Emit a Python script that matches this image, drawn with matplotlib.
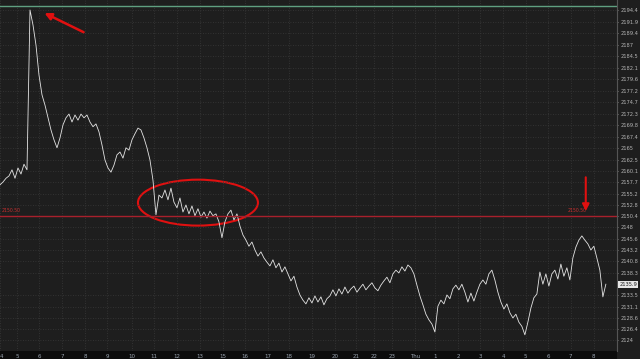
import numpy as np
import matplotlib.pyplot as plt
from matplotlib.patches import Ellipse, Rectangle

# price, one value every few bars
price = [
    2157.1, 2157.7, 2158.5, 2159.0, 2160.3, 2158.5, 2160.7, 2159.4, 2161.5, 2160.3,
    2194.4, 2191.2, 2186.9, 2180.5, 2176.3, 2174.1, 2171.4, 2168.8, 2166.7, 2165.0,
    2167.1, 2169.9, 2171.4, 2172.2, 2170.5, 2172.0, 2170.9, 2172.2, 2171.4, 2172.0,
    2170.5, 2169.5, 2170.1, 2168.4, 2165.6, 2162.4, 2160.7, 2159.8, 2161.3, 2163.5,
    2164.1, 2162.8, 2165.0, 2164.5, 2166.7, 2168.0, 2169.2, 2168.8, 2167.1, 2165.0,
    2162.4, 2158.1, 2150.7, 2154.9, 2154.3, 2156.0, 2153.9, 2156.4, 2153.4, 2152.2,
    2154.3, 2151.3, 2152.8, 2150.9, 2152.6, 2150.5, 2152.0, 2150.2, 2151.3, 2150.0,
    2151.5, 2150.5, 2150.9, 2149.2, 2145.8, 2149.2, 2150.9, 2151.7, 2149.6, 2150.9,
    2148.3, 2146.4, 2145.3, 2144.0, 2144.9, 2143.2, 2141.9, 2142.8, 2141.5, 2140.6,
    2139.8, 2141.1, 2139.4, 2140.4, 2138.5, 2139.6, 2138.1, 2136.6, 2137.6, 2135.3,
    2133.6, 2132.5, 2131.7, 2133.0, 2131.9, 2133.4, 2132.1, 2133.2, 2131.5, 2132.8,
    2133.4, 2134.7, 2133.4, 2134.9, 2133.8, 2135.3, 2134.0, 2134.9, 2135.5, 2134.2,
    2135.1, 2135.9, 2134.7, 2135.5, 2136.2, 2135.1, 2134.5, 2135.7, 2136.6, 2137.4,
    2136.2, 2138.1, 2138.9, 2138.3, 2139.6, 2138.7, 2140.0, 2139.4, 2138.1, 2135.7,
    2133.4, 2131.5, 2129.5, 2128.3, 2127.4, 2125.7, 2131.2, 2132.5, 2131.7, 2133.6,
    2132.8, 2134.9, 2135.7, 2134.7, 2135.9, 2134.2, 2132.1, 2134.0, 2132.3, 2134.2,
    2135.9, 2136.8, 2135.9, 2138.1, 2138.9, 2136.8, 2134.2, 2132.1, 2130.6, 2131.7,
    2129.8, 2128.7, 2129.5, 2127.8, 2126.9, 2125.1, 2127.8, 2130.8, 2133.0, 2133.8,
    2138.5, 2135.9, 2138.1, 2135.5, 2138.1, 2138.9, 2137.0, 2140.2, 2137.6, 2139.4,
    2136.8, 2141.5, 2143.8, 2145.3, 2146.2, 2145.3, 2144.5, 2143.2, 2144.0, 2141.5,
    2138.9, 2133.2, 2135.9,
]
bar = np.arange(len(price))

# hour labels and the bar they fall on
hour_labels = ["4", "5", "6", "7", "8", "9", "10", "11", "12", "13",
               "15", "16", "17", "18", "19", "20", "21", "22", "23", "Thu",
               "1", "2", "3", "4", "5", "6", "7", "8"]
hour_bars = [0, 5.7, 13, 20.7, 28.3, 35.7, 44, 51.3, 59, 66.7,
             74.3, 81.7, 89.3, 96.3, 104, 111.7, 118.7, 124.7, 130.7, 138.3,
             145, 152.7, 160, 167.7, 175.3, 182.7, 190.3, 198]

price_labels = [2194.4, 2191.9, 2189.4, 2187, 2184.5, 2182.1, 2179.6, 2177.2, 2174.7, 2172.3,
                2169.8, 2167.4, 2165, 2162.5, 2160.1, 2157.7, 2155.2, 2152.8, 2150.4, 2148,
                2145.6, 2143.2, 2140.8, 2138.3, 2133.5, 2131.1, 2128.6, 2126.4, 2124]

level_green = 2195.3
level_red = 2150.5
last_price = 2135.9

bg = "#1e1e1e"
fig = plt.figure(figsize=(6.4, 3.59), dpi=100, facecolor=bg)
ax = fig.add_axes([0, 0.0223, 0.964, 0.9777], facecolor=bg)

ax.plot(bar, price, color="#e4e4e4", lw=0.6)
ax.axhline(level_green, color="#5f9f80", lw=1)
ax.axhline(level_red, color="#a8202c", lw=1)
ax.text(0.5, level_red + 0.5, "2150.50", color="#c83030", fontsize=3.3, va="bottom")
ax.text(195.5, level_red + 0.5, "2150.50", color="#c83030", fontsize=3.3, va="bottom", ha="right")

# annotations
ax.annotate("", xy=(14, 2194.0), xytext=(28.7, 2189.4),
            arrowprops=dict(arrowstyle="-|>", color="#e01010", lw=1.8, mutation_scale=10))
ax.annotate("", xy=(195.3, 2150.9), xytext=(195.3, 2159.3),
            arrowprops=dict(arrowstyle="-|>", color="#e01010", lw=1.5, mutation_scale=10))
ax.add_patch(Ellipse((66, 2153.3), 40, 9.8, fill=False, edgecolor="#e01010", lw=1.5))

ax.set_xlim(0, 205.7)
ax.set_ylim(2121.65, 2196.53)

ax.yaxis.tick_right()
ax.set_yticks(price_labels)
ax.set_yticklabels([f"{v:g}" for v in price_labels])
ax.set_xticks(hour_bars)
ax.set_xticklabels(hour_labels)
ax.get_xticklabels()[0].set_ha("left")
ax.tick_params(axis="y", colors="#b4b4b4", labelsize=3.7, length=1, width=0.5, pad=1.5)
ax.tick_params(axis="x", colors="#9aa4b0", labelsize=4, length=0, pad=2.5)
ax.grid(True, color="#3a3a3a", lw=0.6, ls=(0, (1, 2)))

for side in ["top", "left", "bottom"]:
    ax.spines[side].set_visible(False)
ax.spines["right"].set_color("#555555")
ax.spines["right"].set_linewidth(0.8)

ax.text(1.004, last_price, f"{last_price}", transform=ax.get_yaxis_transform(),
        fontsize=3.7, color="#202020", va="center", ha="left",
        bbox=dict(boxstyle="square,pad=0.2", fc="#e6e6e6", ec="none"))

fig.patches.append(Rectangle((0, 0), 0.964, 0.0223, transform=fig.transFigure,
                             facecolor="#0c0c0c", edgecolor="none", zorder=-1))

fig.savefig("out.png", dpi=100, facecolor=bg)
